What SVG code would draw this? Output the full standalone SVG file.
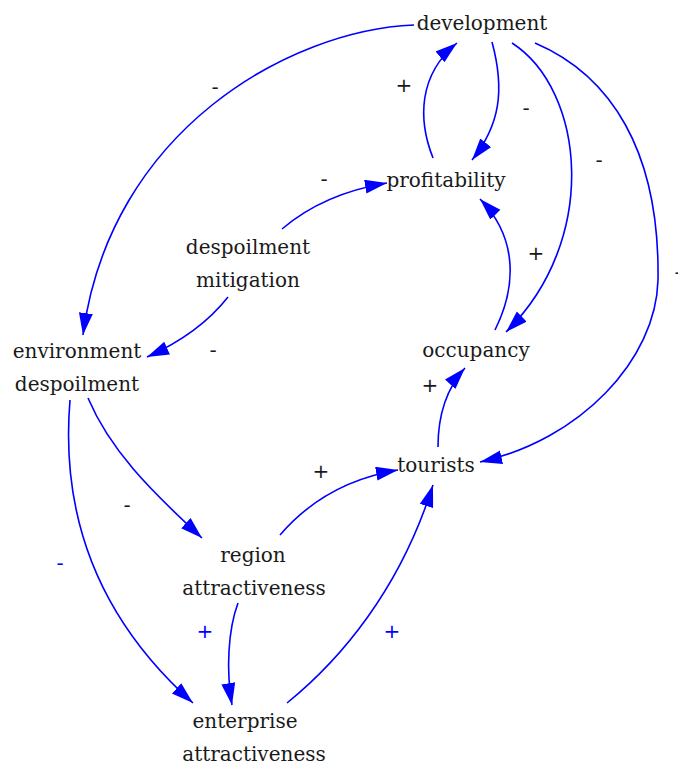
<svg xmlns="http://www.w3.org/2000/svg" width="678" height="762" viewBox="0 0 678 762">
  <defs>
    <marker id="head" markerUnits="userSpaceOnUse" markerWidth="24" markerHeight="16" refX="22" refY="7" orient="auto">
      <path d="M0,0 L22,7 L0,14 Z" fill="#0000ff"/>
    </marker>
    <style>
      .node text { font-family: "DejaVu Serif", "Liberation Serif", serif; font-size: 20px; fill: #1a1a1a; text-anchor: middle; }
      .link { fill: none; stroke: #0000ff; stroke-width: 1.6; marker-end: url(#head); }
      .sign { font-family: "DejaVu Sans", "Liberation Sans", sans-serif; font-size: 20px; text-anchor: middle; fill: #1a1a1a; }
      .sign.blue { fill: #0000ff; }
    </style>
  </defs>
  <rect width="678" height="762" fill="#ffffff"/>

  <!-- connectors with their polarity signs -->
  <g id="links">
    <path class="link" d="M414,25 C290,30 110,130 83,335"/>
    <path class="link" d="M433,158 C418,120 418,75 457,43"/>
    <path class="link" d="M492,42 C505,90 500,125 472,160"/>
    <path class="link" d="M512,43 C585,90 600,240 506,332"/>
    <path class="link" d="M535,43 C610,75 660,150 658,280 C656,360 580,440 480,462"/>
    <path class="link" d="M282,229 C310,205 345,190 387,183"/>
    <path class="link" d="M228,297 C210,320 185,340 147,357"/>
    <path class="link" d="M495,330 C515,290 520,240 480,199"/>
    <path class="link" d="M438,447 C438,420 445,390 465,368"/>
    <path class="link" d="M88,398 C110,450 150,490 202,538"/>
    <path class="link" d="M70,400 C60,520 100,620 193,703"/>
    <path class="link" d="M280,535 C310,500 350,478 398,470"/>
    <path class="link" d="M238,603 C228,630 226,670 232,705"/>
    <path class="link" d="M287,703 C340,660 400,590 433,485"/>

    <text class="sign" x="215" y="94">-</text>
    <text class="sign" x="404" y="92">+</text>
    <text class="sign" x="526" y="115">-</text>
    <text class="sign" x="599" y="167">-</text>
    <text class="sign" x="324" y="186">-</text>
    <text class="sign" x="536" y="260">+</text>
    <text class="sign" x="678" y="279">-</text>
    <text class="sign" x="213" y="357">-</text>
    <text class="sign" x="430" y="392">+</text>
    <text class="sign" x="321" y="478">+</text>
    <text class="sign" x="127" y="512">-</text>
    <text class="sign blue" x="60" y="570">-</text>
    <text class="sign blue" x="205" y="638">+</text>
    <text class="sign blue" x="392" y="638">+</text>
  </g>

  <g id="development" class="node"><text x="482" y="30">development</text></g>
  <g id="profitability" class="node"><text x="446" y="187">profitability</text></g>
  <g id="despoilment-mitigation" class="node">
    <text x="248" y="254">despoilment</text>
    <text x="248" y="287">mitigation</text>
  </g>
  <g id="environment-despoilment" class="node">
    <text x="77" y="358">environment</text>
    <text x="77" y="391">despoilment</text>
  </g>
  <g id="occupancy" class="node"><text x="476" y="357">occupancy</text></g>
  <g id="tourists" class="node"><text x="436" y="472">tourists</text></g>
  <g id="region-attractiveness" class="node">
    <text x="253" y="562">region</text>
    <text x="254" y="595">attractiveness</text>
  </g>
  <g id="enterprise-attractiveness" class="node">
    <text x="245" y="728">enterprise</text>
    <text x="254" y="761">attractiveness</text>
  </g>
</svg>
